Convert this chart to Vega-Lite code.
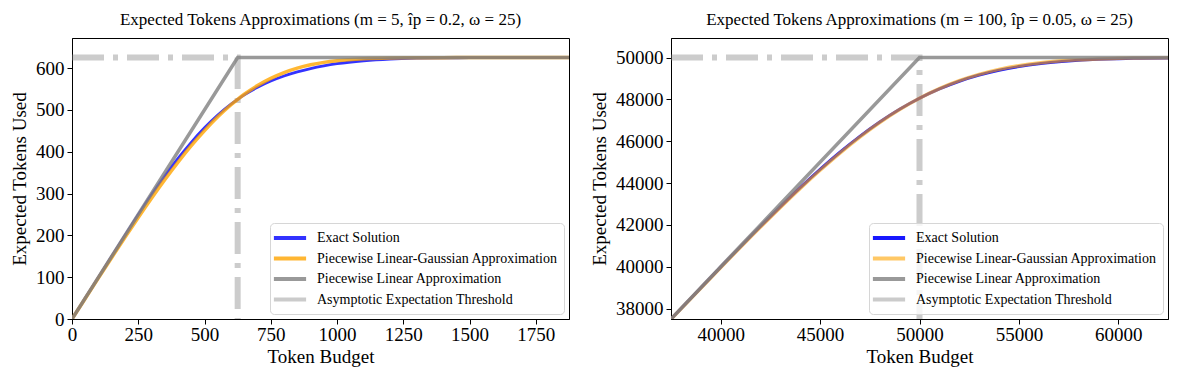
{
  "$schema": "https://vega.github.io/schema/vega-lite/v6.json",
  "padding": {"left": 10, "top": 10, "right": 6, "bottom": 2},
  "background": "white",
  "datasets": {
    "L": [
      {"s": "Asymptotic Expectation Threshold", "x": 0, "y": 625, "o": 1},
      {"s": "Asymptotic Expectation Threshold", "x": 625, "y": 625, "o": 2},
      {"s": "Asymptotic Expectation Threshold", "x": 625, "y": 0, "o": 3},
      {"s": "Exact Solution", "x": 0, "y": 0},
      {"s": "Exact Solution", "x": 50, "y": 50},
      {"s": "Exact Solution", "x": 100, "y": 100},
      {"s": "Exact Solution", "x": 150, "y": 150},
      {"s": "Exact Solution", "x": 200, "y": 199.8},
      {"s": "Exact Solution", "x": 250, "y": 249.1},
      {"s": "Exact Solution", "x": 300, "y": 297},
      {"s": "Exact Solution", "x": 350, "y": 341.8},
      {"s": "Exact Solution", "x": 400, "y": 383.9},
      {"s": "Exact Solution", "x": 450, "y": 422.5},
      {"s": "Exact Solution", "x": 500, "y": 457.1},
      {"s": "Exact Solution", "x": 550, "y": 487.6},
      {"s": "Exact Solution", "x": 600, "y": 513.7},
      {"s": "Exact Solution", "x": 625, "y": 525.3},
      {"s": "Exact Solution", "x": 650, "y": 535.8},
      {"s": "Exact Solution", "x": 700, "y": 554.0},
      {"s": "Exact Solution", "x": 750, "y": 568.9},
      {"s": "Exact Solution", "x": 800, "y": 581.1},
      {"s": "Exact Solution", "x": 850, "y": 590.9},
      {"s": "Exact Solution", "x": 900, "y": 598.8},
      {"s": "Exact Solution", "x": 950, "y": 605.2},
      {"s": "Exact Solution", "x": 1000, "y": 610.4},
      {"s": "Exact Solution", "x": 1100, "y": 617.5},
      {"s": "Exact Solution", "x": 1200, "y": 621.7},
      {"s": "Exact Solution", "x": 1300, "y": 623.7},
      {"s": "Exact Solution", "x": 1400, "y": 624.5},
      {"s": "Exact Solution", "x": 1500, "y": 624.8},
      {"s": "Exact Solution", "x": 1650, "y": 624.95},
      {"s": "Exact Solution", "x": 1875, "y": 625},
      {"s": "Piecewise Linear-Gaussian Approximation", "x": 0, "y": 0},
      {"s": "Piecewise Linear-Gaussian Approximation", "x": 50, "y": 49.1},
      {"s": "Piecewise Linear-Gaussian Approximation", "x": 100, "y": 98.4},
      {"s": "Piecewise Linear-Gaussian Approximation", "x": 150, "y": 147.2},
      {"s": "Piecewise Linear-Gaussian Approximation", "x": 200, "y": 195.4},
      {"s": "Piecewise Linear-Gaussian Approximation", "x": 250, "y": 242.7},
      {"s": "Piecewise Linear-Gaussian Approximation", "x": 300, "y": 288.6},
      {"s": "Piecewise Linear-Gaussian Approximation", "x": 350, "y": 332.8},
      {"s": "Piecewise Linear-Gaussian Approximation", "x": 400, "y": 374.9},
      {"s": "Piecewise Linear-Gaussian Approximation", "x": 450, "y": 414.3},
      {"s": "Piecewise Linear-Gaussian Approximation", "x": 500, "y": 450.5},
      {"s": "Piecewise Linear-Gaussian Approximation", "x": 550, "y": 483.3},
      {"s": "Piecewise Linear-Gaussian Approximation", "x": 600, "y": 512.3},
      {"s": "Piecewise Linear-Gaussian Approximation", "x": 625, "y": 525.3},
      {"s": "Piecewise Linear-Gaussian Approximation", "x": 650, "y": 537.3},
      {"s": "Piecewise Linear-Gaussian Approximation", "x": 700, "y": 558.3},
      {"s": "Piecewise Linear-Gaussian Approximation", "x": 750, "y": 575.5},
      {"s": "Piecewise Linear-Gaussian Approximation", "x": 800, "y": 589.3},
      {"s": "Piecewise Linear-Gaussian Approximation", "x": 850, "y": 599.9},
      {"s": "Piecewise Linear-Gaussian Approximation", "x": 900, "y": 607.8},
      {"s": "Piecewise Linear-Gaussian Approximation", "x": 950, "y": 613.6},
      {"s": "Piecewise Linear-Gaussian Approximation", "x": 1000, "y": 617.7},
      {"s": "Piecewise Linear-Gaussian Approximation", "x": 1100, "y": 622.2},
      {"s": "Piecewise Linear-Gaussian Approximation", "x": 1200, "y": 624.1},
      {"s": "Piecewise Linear-Gaussian Approximation", "x": 1300, "y": 624.7},
      {"s": "Piecewise Linear-Gaussian Approximation", "x": 1400, "y": 624.93},
      {"s": "Piecewise Linear-Gaussian Approximation", "x": 1500, "y": 624.99},
      {"s": "Piecewise Linear-Gaussian Approximation", "x": 1875, "y": 625},
      {"s": "Piecewise Linear Approximation", "x": 0, "y": 0},
      {"s": "Piecewise Linear Approximation", "x": 625, "y": 625},
      {"s": "Piecewise Linear Approximation", "x": 1875, "y": 625}
    ],
    "R": [
      {"s": "Asymptotic Expectation Threshold", "x": 37500, "y": 50000, "o": 1},
      {"s": "Asymptotic Expectation Threshold", "x": 50000, "y": 50000, "o": 2},
      {"s": "Asymptotic Expectation Threshold", "x": 50000, "y": 37500, "o": 3},
      {"s": "Exact Solution", "x": 37500, "y": 37497.7},
      {"s": "Exact Solution", "x": 40000, "y": 39979.8},
      {"s": "Exact Solution", "x": 42000, "y": 41925.2},
      {"s": "Exact Solution", "x": 44000, "y": 43782.6},
      {"s": "Exact Solution", "x": 45000, "y": 44652.7},
      {"s": "Exact Solution", "x": 46000, "y": 45473.8},
      {"s": "Exact Solution", "x": 47000, "y": 46231.7},
      {"s": "Exact Solution", "x": 48000, "y": 46920.0},
      {"s": "Exact Solution", "x": 49000, "y": 47528.3},
      {"s": "Exact Solution", "x": 50000, "y": 48056},
      {"s": "Exact Solution", "x": 51000, "y": 48502.3},
      {"s": "Exact Solution", "x": 52000, "y": 48871.2},
      {"s": "Exact Solution", "x": 53000, "y": 49165.7},
      {"s": "Exact Solution", "x": 54000, "y": 49397.8},
      {"s": "Exact Solution", "x": 55000, "y": 49574.1},
      {"s": "Exact Solution", "x": 56000, "y": 49708.0},
      {"s": "Exact Solution", "x": 57000, "y": 49802.1},
      {"s": "Exact Solution", "x": 58000, "y": 49870.0},
      {"s": "Exact Solution", "x": 59000, "y": 49915.5},
      {"s": "Exact Solution", "x": 60000, "y": 49947.4},
      {"s": "Exact Solution", "x": 61000, "y": 49968.6},
      {"s": "Exact Solution", "x": 62500, "y": 49985.3},
      {"s": "Piecewise Linear-Gaussian Approximation", "x": 37500, "y": 37491.5},
      {"s": "Piecewise Linear-Gaussian Approximation", "x": 40000, "y": 39963.6},
      {"s": "Piecewise Linear-Gaussian Approximation", "x": 42000, "y": 41897.6},
      {"s": "Piecewise Linear-Gaussian Approximation", "x": 44000, "y": 43745.3},
      {"s": "Piecewise Linear-Gaussian Approximation", "x": 45000, "y": 44613.4},
      {"s": "Piecewise Linear-Gaussian Approximation", "x": 46000, "y": 45435.8},
      {"s": "Piecewise Linear-Gaussian Approximation", "x": 47000, "y": 46198.7},
      {"s": "Piecewise Linear-Gaussian Approximation", "x": 48000, "y": 46895.6},
      {"s": "Piecewise Linear-Gaussian Approximation", "x": 49000, "y": 47515.3},
      {"s": "Piecewise Linear-Gaussian Approximation", "x": 50000, "y": 48056},
      {"s": "Piecewise Linear-Gaussian Approximation", "x": 51000, "y": 48515.3},
      {"s": "Piecewise Linear-Gaussian Approximation", "x": 52000, "y": 48895.6},
      {"s": "Piecewise Linear-Gaussian Approximation", "x": 53000, "y": 49198.7},
      {"s": "Piecewise Linear-Gaussian Approximation", "x": 54000, "y": 49435.8},
      {"s": "Piecewise Linear-Gaussian Approximation", "x": 55000, "y": 49613.4},
      {"s": "Piecewise Linear-Gaussian Approximation", "x": 56000, "y": 49745.3},
      {"s": "Piecewise Linear-Gaussian Approximation", "x": 57000, "y": 49835.3},
      {"s": "Piecewise Linear-Gaussian Approximation", "x": 58000, "y": 49897.6},
      {"s": "Piecewise Linear-Gaussian Approximation", "x": 59000, "y": 49937.3},
      {"s": "Piecewise Linear-Gaussian Approximation", "x": 60000, "y": 49963.6},
      {"s": "Piecewise Linear-Gaussian Approximation", "x": 61000, "y": 49980},
      {"s": "Piecewise Linear-Gaussian Approximation", "x": 62500, "y": 49991.5},
      {"s": "Piecewise Linear Approximation", "x": 37500, "y": 37500},
      {"s": "Piecewise Linear Approximation", "x": 50000, "y": 50000},
      {"s": "Piecewise Linear Approximation", "x": 62500, "y": 50000}
    ]
  },
  "config": {
    "font": "Liberation Serif",
    "view": {"stroke": "black", "strokeWidth": 1},
    "axis": {
      "grid": false, "domainColor": "black", "tickColor": "black", "labelColor": "black", "titleColor": "black",
      "labelFont": "Liberation Serif", "titleFont": "Liberation Serif", "labelFontSize": 19, "titleFontSize": 19,
      "titleFontWeight": "normal", "tickSize": 5, "labelPadding": 3, "labelFlush": false, "labelOverlap": false,
      "domainWidth": 1, "tickWidth": 1
    },
    "axisY": {"titlePadding": 6},
    "axisX": {"titlePadding": 3, "labelPadding": 1},
    "title": {"font": "Liberation Serif", "fontSize": 17, "fontWeight": "normal", "color": "black", "offset": 9},
    "legend": {
      "orient": "bottom-right", "offset": 5, "padding": 6, "title": null,
      "fillColor": "rgba(255,255,255,0.8)", "strokeColor": "#d6d6d6", "cornerRadius": 4,
      "labelFont": "Liberation Serif", "labelFontSize": 14, "labelColor": "black", "labelLimit": 400,
      "symbolType": "M-2.3,0H2.3", "symbolSize": 196, "symbolStrokeWidth": 4, "symbolOffset": 5,
      "labelOffset": 18, "rowPadding": 3.5
    }
  },
  "resolve": {"scale": {"color": "independent"}},
  "spacing": 20,
  "hconcat": [
    {
      "width": 497, "height": 281,
      "title": "Expected Tokens Approximations (m = 5, îp = 0.2, ω = 25)",
      "data": {"name": "L"},
      "encoding": {
        "x": {"field": "x", "type": "quantitative", "scale": {"domain": [0, 1875], "nice": false, "zero": false},
              "axis": {"title": "Token Budget", "values": [0, 250, 500, 750, 1000, 1250, 1500, 1750], "format": "d"}},
        "y": {"field": "y", "type": "quantitative", "scale": {"domain": [0, 671.875], "nice": false, "zero": false},
              "axis": {"title": "Expected Tokens Used", "values": [0, 100, 200, 300, 400, 500, 600], "format": "d"}},
        "color": {"field": "s", "type": "nominal",
                  "scale": {"domain": ["Exact Solution", "Piecewise Linear-Gaussian Approximation", "Piecewise Linear Approximation", "Asymptotic Expectation Threshold"],
                            "range": ["#0000ff", "#ffa500", "#808080", "#808080"]},
                  "legend": {"symbolOpacity": 1, "encode": {"symbols": {"update": {"opacity": {"signal": "datum.value === 'Asymptotic Expectation Threshold' ? 0.4 : 0.8"}}}}}}
      },
      "layer": [
        {"transform": [{"filter": "datum.s == 'Asymptotic Expectation Threshold'"}],
         "mark": {"type": "line", "strokeWidth": 6, "strokeDash": [32, 9, 5, 9], "opacity": 0.4, "clip": true},
         "encoding": {"order": {"field": "o", "type": "quantitative"}}},
        {"transform": [{"filter": "datum.s == 'Exact Solution'"}],
         "mark": {"type": "line", "strokeWidth": 2.8, "interpolate": "monotone", "opacity": 0.8, "clip": true}},
        {"transform": [{"filter": "datum.s == 'Piecewise Linear-Gaussian Approximation'"}],
         "mark": {"type": "line", "strokeWidth": 3.5, "interpolate": "monotone", "opacity": 0.8, "clip": true}},
        {"transform": [{"filter": "datum.s == 'Piecewise Linear Approximation'"}],
         "mark": {"type": "line", "strokeWidth": 3.5, "clip": true, "opacity": 0.8}}
      ]
    },
    {
      "width": 497, "height": 281,
      "title": "Expected Tokens Approximations (m = 100, îp = 0.05, ω = 25)",
      "data": {"name": "R"},
      "encoding": {
        "x": {"field": "x", "type": "quantitative", "scale": {"domain": [37500, 62500], "nice": false, "zero": false},
              "axis": {"title": "Token Budget", "values": [40000, 45000, 50000, 55000, 60000], "format": "d"}},
        "y": {"field": "y", "type": "quantitative", "scale": {"domain": [37500, 50937.5], "nice": false, "zero": false},
              "axis": {"title": "Expected Tokens Used", "values": [38000, 40000, 42000, 44000, 46000, 48000, 50000], "format": "d"}},
        "color": {"field": "s", "type": "nominal",
                  "scale": {"domain": ["Exact Solution", "Piecewise Linear-Gaussian Approximation", "Piecewise Linear Approximation", "Asymptotic Expectation Threshold"],
                            "range": ["#0000ff", "#ffa500", "#808080", "#808080"]},
                  "legend": {"symbolOpacity": 1, "encode": {"symbols": {"update": {"opacity": {"signal": "datum.value === 'Exact Solution' ? 0.9 : datum.value === 'Piecewise Linear-Gaussian Approximation' ? 0.6 : datum.value === 'Piecewise Linear Approximation' ? 0.8 : 0.4"}}}}}}
      },
      "layer": [
        {"transform": [{"filter": "datum.s == 'Asymptotic Expectation Threshold'"}],
         "mark": {"type": "line", "strokeWidth": 6, "strokeDash": [32, 9, 5, 9], "opacity": 0.4, "clip": true},
         "encoding": {"order": {"field": "o", "type": "quantitative"}}},
        {"transform": [{"filter": "datum.s == 'Exact Solution'"}],
         "mark": {"type": "line", "strokeWidth": 3, "interpolate": "monotone", "opacity": 0.9, "clip": true}},
        {"transform": [{"filter": "datum.s == 'Piecewise Linear-Gaussian Approximation'"}],
         "mark": {"type": "line", "strokeWidth": 3.5, "interpolate": "monotone", "opacity": 0.6, "clip": true}},
        {"transform": [{"filter": "datum.s == 'Piecewise Linear Approximation'"}],
         "mark": {"type": "line", "strokeWidth": 3.5, "clip": true, "opacity": 0.8}}
      ]
    }
  ]
}
